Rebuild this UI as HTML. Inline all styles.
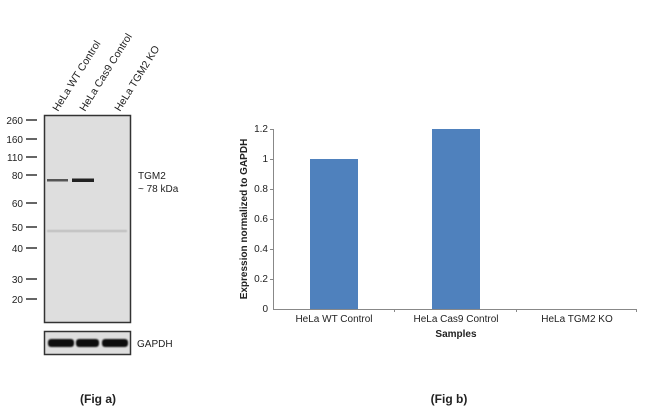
<!DOCTYPE html>
<html><head><style>
body{margin:0;background:#fff;}
</style></head><body>
<svg width="650" height="414" xmlns="http://www.w3.org/2000/svg" font-family="Liberation Sans, Arial, sans-serif">
<defs><filter id="b" x="-10%" y="-50%" width="120%" height="200%"><feGaussianBlur stdDeviation="0.7"/></filter></defs>
<rect width="650" height="414" fill="#fff"/>
<!-- blot -->
<g font-size="10.5" fill="#222">
<text transform="translate(58,112) rotate(-58)">HeLa WT Control</text>
<text transform="translate(85,112) rotate(-58)">HeLa Cas9 Control</text>
<text transform="translate(120,112) rotate(-58)">HeLa TGM2 KO</text>
</g>
<rect x="44.5" y="115.5" width="86" height="207" fill="#dedede" stroke="#333" stroke-width="1.5"/>
<rect x="44.5" y="331.5" width="86" height="23" fill="#dedede" stroke="#333" stroke-width="1.5"/>
<g font-size="10" fill="#222" text-anchor="end">
<text x="23" y="124">260</text><text x="23" y="143">160</text><text x="23" y="161">110</text>
<text x="23" y="179">80</text><text x="23" y="207">60</text><text x="23" y="231">50</text>
<text x="23" y="252">40</text><text x="23" y="283">30</text><text x="23" y="303">20</text>
</g>
<g stroke="#333" stroke-width="1.5">
<line x1="26" y1="120" x2="37" y2="120"/><line x1="26" y1="139" x2="37" y2="139"/><line x1="26" y1="157" x2="37" y2="157"/>
<line x1="26" y1="175" x2="37" y2="175"/><line x1="26" y1="203" x2="37" y2="203"/><line x1="26" y1="227" x2="37" y2="227"/>
<line x1="26" y1="248" x2="37" y2="248"/><line x1="26" y1="279" x2="37" y2="279"/><line x1="26" y1="299" x2="37" y2="299"/>
</g>
<rect x="47" y="179" width="21" height="2.5" fill="#555"/>
<rect x="72" y="178.5" width="22" height="3.5" fill="#222"/>
<rect x="47" y="230" width="80" height="2" fill="#bbb" filter="url(#b)"/>
<rect x="48" y="339" width="26" height="8" rx="3" fill="#111" filter="url(#b)"/>
<rect x="76" y="339" width="23" height="8" rx="3" fill="#111" filter="url(#b)"/>
<rect x="102" y="339" width="26" height="8" rx="3" fill="#111" filter="url(#b)"/>
<g font-size="10" fill="#222">
<text x="138" y="179">TGM2</text><text x="138" y="192">~ 78 kDa</text>
<text x="137" y="347">GAPDH</text>
</g>
<!-- chart -->
<g font-size="10" fill="#222" text-anchor="end">
<text x="268" y="132">1.2</text><text x="268" y="162">1</text><text x="268" y="192">0.8</text>
<text x="268" y="222">0.6</text><text x="268" y="252">0.4</text><text x="268" y="282">0.2</text><text x="268" y="312">0</text>
</g>
<g stroke="#888" stroke-width="1">
<line x1="273.5" y1="129" x2="273.5" y2="309"/>
<line x1="273" y1="309.5" x2="637" y2="309.5"/>
<line x1="270" y1="129.5" x2="273" y2="129.5"/><line x1="270" y1="159.5" x2="273" y2="159.5"/><line x1="270" y1="189.5" x2="273" y2="189.5"/>
<line x1="270" y1="219.5" x2="273" y2="219.5"/><line x1="270" y1="249.5" x2="273" y2="249.5"/><line x1="270" y1="279.5" x2="273" y2="279.5"/>
<line x1="394.5" y1="309" x2="394.5" y2="312"/><line x1="516.5" y1="309" x2="516.5" y2="312"/><line x1="636.5" y1="309" x2="636.5" y2="312"/>
</g>
<rect x="310" y="159" width="48" height="150" fill="#4f81bd"/>
<rect x="432" y="129" width="48" height="180" fill="#4f81bd"/>
<g font-size="10" fill="#222" text-anchor="middle">
<text x="334" y="322">HeLa WT Control</text>
<text x="456" y="322">HeLa Cas9 Control</text>
<text x="577" y="322">HeLa TGM2 KO</text>
<text x="456" y="337" font-weight="bold">Samples</text>
<text transform="translate(247,219) rotate(-90)" font-weight="bold">Expression  normalized to GAPDH</text>
</g>
<g font-size="12" font-weight="bold" fill="#222" text-anchor="middle">
<text x="98" y="403">(Fig a)</text>
<text x="449" y="403">(Fig b)</text>
</g>
</svg>
</body></html>
